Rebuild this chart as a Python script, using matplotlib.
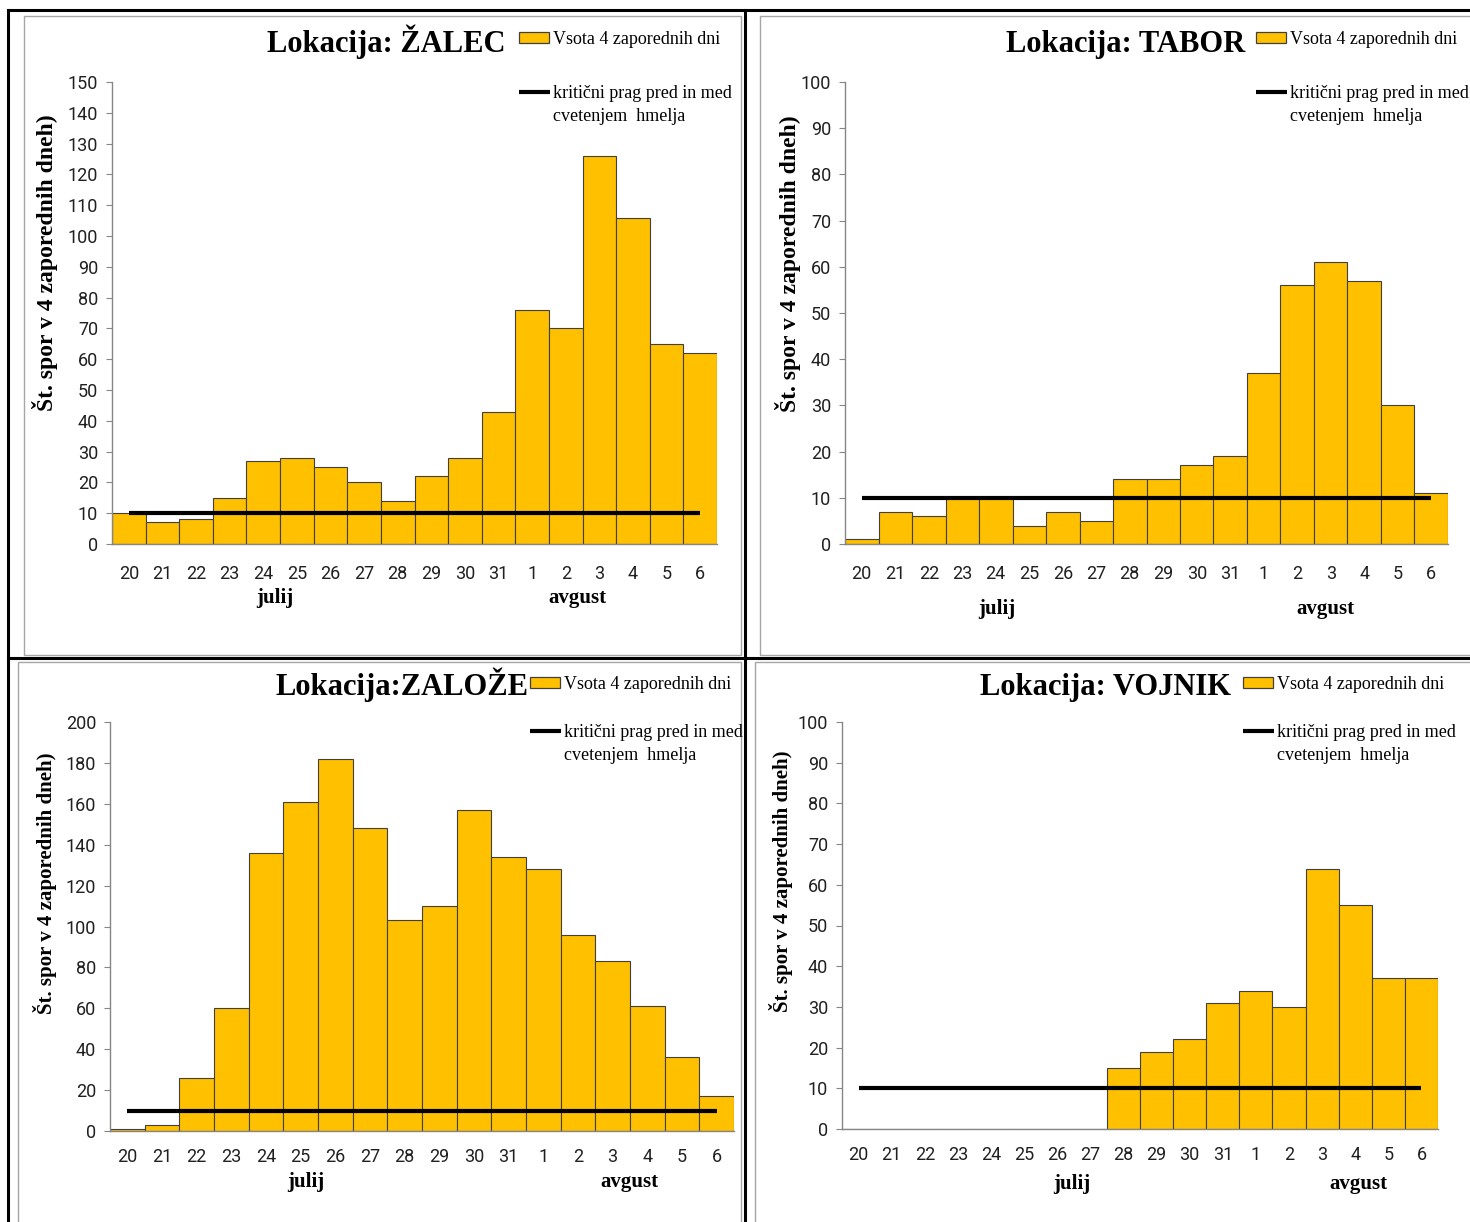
import matplotlib
matplotlib.use("Agg")
import matplotlib.pyplot as plt
from matplotlib import font_manager
from matplotlib.lines import Line2D
from matplotlib.patches import Rectangle
from matplotlib.transforms import Bbox, TransformedBbox

# ---------------- data ----------------
days = ["20", "21", "22", "23", "24", "25", "26", "27", "28", "29", "30", "31",
        "1", "2", "3", "4", "5", "6"]
zalec = [10, 7, 8, 15, 27, 28, 25, 20, 14, 22, 28, 43, 76, 70, 126, 106, 65, 62]
tabor = [1, 7, 6, 10, 10, 4, 7, 5, 14, 14, 17, 19, 37, 56, 61, 57, 30, 11]
zaloze = [1, 3, 26, 60, 136, 161, 182, 148, 103, 110, 157, 134, 128, 96, 83, 61, 36, 17]
vojnik = [0, 0, 0, 0, 0, 0, 0, 0, 15, 19, 22, 31, 34, 30, 64, 55, 37, 37]
threshold = 10
titles = ["Lokacija: ŽALEC", "Lokacija: TABOR", "Lokacija:ZALOŽE", "Lokacija: VOJNIK"]
bar_label = "Vsota 4 zaporednih dni"
line_label1 = "kritični prag pred in med"
line_label2 = "cvetenjem  hmelja"
ylabel = "Št. spor v 4 zaporednih dneh)"
months = ["julij", "avgust"]

# ---------------- fonts ----------------
names = {f.name for f in font_manager.fontManager.ttflist}
SANS = "Liberation Sans Narrow" if "Liberation Sans Narrow" in names else "Roboto"
SERIF = "Liberation Serif"

W, H = 1470, 1222
fig = plt.figure(figsize=(W / 100, H / 100), dpi=100)
fig.patch.set_facecolor("white")


def fx(x):
    return x / W


def fy(y):
    return 1 - y / H


BAR_COLOR = "#FFC000"
EDGE = "#404040"
SPINE = "#868686"

# layout per panel (pixel coordinates)
panels = [
    dict(vals=zalec, ymax=150, step=10, title=titles[0],
         ax=(112, 82, 717, 544), xpad=15, title_c=(386, 52), ylab=(45, 263, 17),
         leg_x=519, leg_y1=38, leg_y2=92, months=((275, 598), (577, 598)), clip=False),
    dict(vals=tabor, ymax=100, step=10, title=titles[1],
         ax=(845, 82, 1448, 544), xpad=15, title_c=(1126, 52), ylab=(788, 264, 17),
         leg_x=1256, leg_y1=38, leg_y2=92, months=((997, 609), (1325, 609)), clip=False),
    dict(vals=zaloze, ymax=200, step=20, title=titles[2],
         ax=(110, 722, 734, 1131), xpad=12, title_c=(402, 695), ylab=(45, 883, 15),
         leg_x=530, leg_y1=683, leg_y2=731, months=((306, 1182), (629, 1182)), clip=True),
    dict(vals=vojnik, ymax=100, step=10, title=titles[3],
         ax=(842, 722, 1438, 1129), xpad=12, title_c=(1105, 695), ylab=(781, 881, 15),
         leg_x=1243, leg_y1=683, leg_y2=731, months=((1072, 1184), (1358, 1184)), clip=False),
]

clipbox = TransformedBbox(Bbox([[0, 0], [fx(744), 1]]), fig.transFigure)

for p in panels:
    l, t, r, b = p["ax"]
    ax = fig.add_axes([fx(l), fy(b), (r - l) / W, (b - t) / H])
    n = len(days)
    xs = list(range(n))
    ax.bar(xs, p["vals"], width=1.0, color=BAR_COLOR, edgecolor=EDGE,
           linewidth=0.8, zorder=2)
    ax.plot([xs[0], xs[-1]], [threshold, threshold], color="black", lw=3,
            zorder=3, solid_capstyle="butt")
    ax.set_xlim(-0.5, n - 0.5)
    ax.set_ylim(0, p["ymax"])
    ax.set_yticks(range(0, p["ymax"] + 1, p["step"]))
    ax.set_xticks(xs)
    ax.set_xticklabels(days)
    for s in ("top", "right"):
        ax.spines[s].set_visible(False)
    for s in ("left", "bottom"):
        ax.spines[s].set_color(SPINE)
        ax.spines[s].set_linewidth(1.0)
    ax.tick_params(axis="x", length=0, pad=p["xpad"], labelsize=13)
    ax.tick_params(axis="y", length=4, color=SPINE, pad=6, labelsize=13)
    for lab in ax.get_xticklabels() + ax.get_yticklabels():
        lab.set_fontfamily(SANS)
        lab.set_color("#202020")
    ax.set_facecolor("none")

    # title
    fig.text(fx(p["title_c"][0]), fy(p["title_c"][1]), p["title"], ha="center",
             va="baseline", fontfamily=SERIF, fontweight="bold", fontsize=22)
    # y label
    yx, yy, ys = p["ylab"]
    fig.text(fx(yx), fy(yy), ylabel, rotation=90, ha="center", va="center",
             fontfamily=SERIF, fontweight="bold", fontsize=ys)
    # month labels
    for (mx, my), m in zip(p["months"], months):
        fig.text(fx(mx), fy(my), m, ha="center", va="center", fontfamily=SERIF,
                 fontweight="bold", fontsize=15)

    # legend (manual)
    lx = p["leg_x"]
    y1 = p["leg_y1"]
    y2 = p["leg_y2"]
    fig.add_artist(Rectangle((fx(lx), fy(y1 + 5)), 30 / W, 11 / H,
                             transform=fig.transFigure, facecolor=BAR_COLOR,
                             edgecolor=EDGE, linewidth=0.9))
    fig.add_artist(Line2D([fx(lx), fx(lx + 31)], [fy(y2), fy(y2)],
                          transform=fig.transFigure, color="black", lw=3,
                          solid_capstyle="butt"))
    texts = [
        fig.text(fx(lx + 34), fy(y1 + 6), bar_label, ha="left", va="baseline",
                 fontfamily=SERIF, fontsize=13),
        fig.text(fx(lx + 34), fy(y2 + 6), line_label1, ha="left", va="baseline",
                 fontfamily=SERIF, fontsize=13),
        fig.text(fx(lx + 34), fy(y2 + 29), line_label2, ha="left", va="baseline",
                 fontfamily=SERIF, fontsize=13),
    ]
    if p["clip"]:
        for tx in texts:
            tx.set_clip_on(True)
            tx.set_clip_box(clipbox)

# inner gray frames
GRAY = "#a6a6a6"
for (x0, y0, x1, y1) in [(24, 16, 741, 655), (760, 16, 1480, 655),
                         (18, 662, 741, 1240), (755, 662, 1480, 1240)]:
    fig.add_artist(Rectangle((fx(x0), fy(y1)), (x1 - x0) / W, (y1 - y0) / H,
                             transform=fig.transFigure, facecolor="none",
                             edgecolor=GRAY, linewidth=1.0))

# outer black borders
for (x0, y0, x1, y1) in [(8, 10, 1470, 10), (8, 10, 8, 1222),
                         (8, 658, 1470, 658), (745, 10, 745, 1222)]:
    fig.add_artist(Line2D([fx(x0), fx(x1)], [fy(y0), fy(y1)],
                          transform=fig.transFigure, color="black", lw=2.2))

fig.savefig("out.png", dpi=100, facecolor="white")
